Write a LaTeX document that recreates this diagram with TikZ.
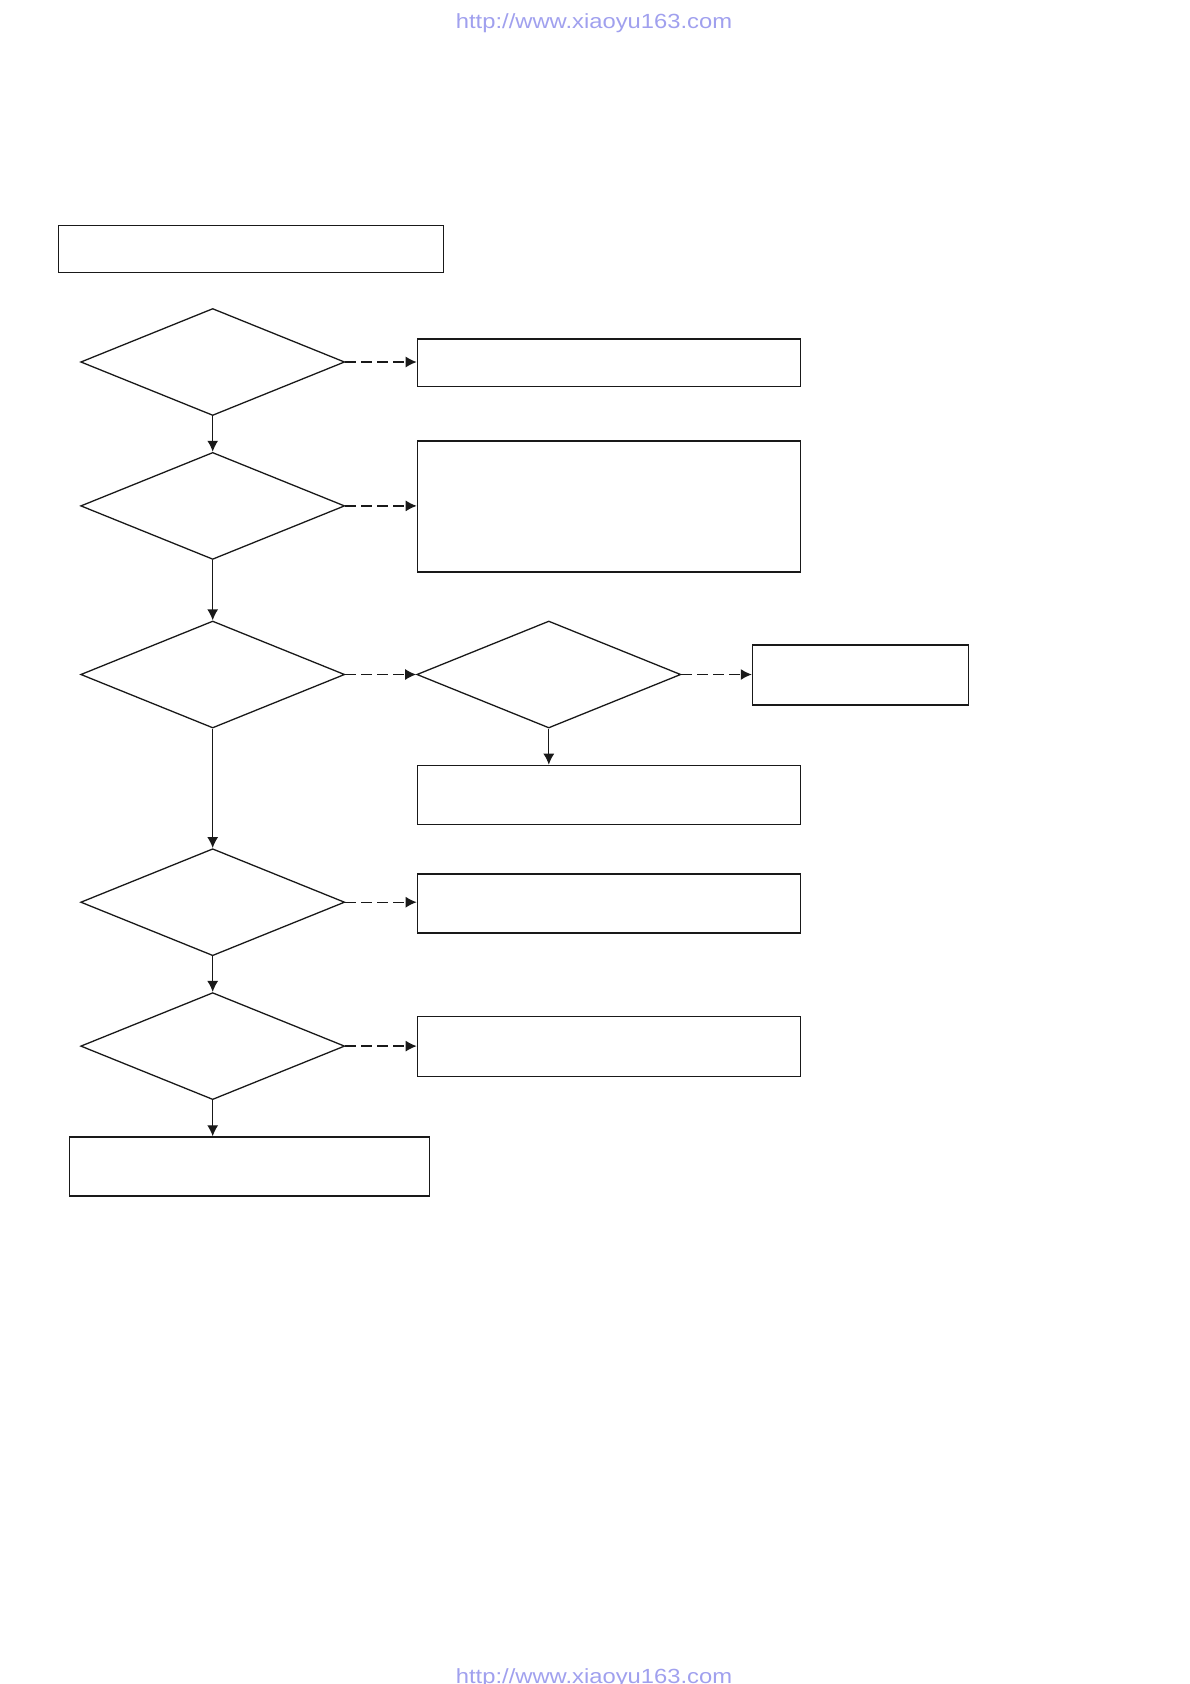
\documentclass[tikz,border=0pt]{standalone}
\usepackage{fontspec}
\setmainfont{Liberation Sans}
\usetikzlibrary{arrows.meta,shapes.geometric}
\definecolor{urlblue}{HTML}{A0A0EE}
\tikzset{
  x=1pt,y=-1pt,
  boxnode/.style={draw=black!90,line width=1.3pt,fill=none,inner sep=0pt,anchor=north west},
  decision/.style={draw=black!90,line width=1.3pt,diamond,inner sep=0pt,minimum width=264pt,minimum height=107pt,aspect=2.45},
  solidarrow/.style={line width=1.3pt,draw=black!90,-{Latex[length=11pt,width=11pt]}},
  dasharrow/.style={line width=1.3pt,draw=black!90,dash pattern=on 11pt off 5pt,-{Latex[length=11pt,width=11pt]}},
  urltext/.style={text=urlblue,font=\fontsize{20.5}{24}\selectfont,inner sep=0pt,anchor=base,xscale=1.16}
}
\newcommand{\rbox}[5]{\node[boxnode,minimum width=#4pt,minimum height=#5pt] (#1) at (#2,#3) {};}
\begin{document}
\begin{tikzpicture}
\useasboundingbox (0,0) rectangle (1190,1684);
% header / footer
\node[urltext] (urltop) at (594,28) {http://www.xiaoyu163.com};
\node[urltext] (urlbot) at (594,1683) {http://www.xiaoyu163.com};
% boxes
\rbox{start}{58}{224.5}{384.5}{47}
\rbox{r1}{416.7}{338.3}{383.3}{47.3}
\rbox{r2}{416.7}{440.3}{383.3}{131}
\rbox{r3b}{751.8}{644.4}{216}{60}
\rbox{r3}{416.7}{764.7}{383.3}{59}
\rbox{r4}{416.7}{873.2}{383.3}{59}
\rbox{r5}{416.7}{1016}{383.3}{60}
\rbox{finish}{68.7}{1136.3}{359.8}{59}
% decisions
\node[decision] (d1) at (212.7,362) {};
\node[decision] (d2) at (212.7,505.9) {};
\node[decision] (d3) at (212.7,674.5) {};
\node[decision] (d3b) at (548.8,674.5) {};
\node[decision] (d4) at (212.7,902.2) {};
\node[decision] (d5) at (212.7,1046.1) {};
% main flow
\draw[solidarrow] (d1.south) -- (d2.north);
\draw[solidarrow] (d2.south) -- (d3.north);
\draw[solidarrow] (d3.south) -- (d4.north);
\draw[solidarrow] (d4.south) -- (d5.north);
\draw[solidarrow] (d5.south) -- (finish.north -| d5.south);
\draw[solidarrow] (d3b.south) -- (r3.north -| d3b.south);
% side branches
\draw[dasharrow] (d1.east) -- (r1.west |- d1.east);
\draw[dasharrow] (d2.east) -- (r2.west |- d2.east);
\draw[dasharrow] (d3.east) -- (d3b.west);
\draw[dasharrow] (d3b.east) -- (r3b.west |- d3b.east);
\draw[dasharrow] (d4.east) -- (r4.west |- d4.east);
\draw[dasharrow] (d5.east) -- (r5.west |- d5.east);
\end{tikzpicture}
\end{document}
